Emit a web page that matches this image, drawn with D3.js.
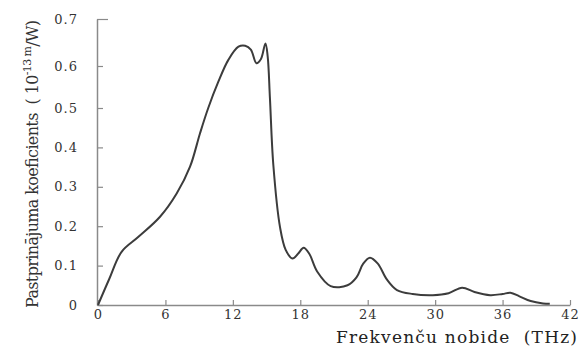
<!DOCTYPE html>
<html>
<head>
<meta charset="utf-8">
<script src="https://cdn.jsdelivr.net/npm/d3@7"></script>
<style>
  body { margin: 0; background: #fff; }
  svg { display: block; }
  .tick text { font-family: "DejaVu Serif", "Liberation Serif", "Times New Roman", serif; font-size: 13px; fill: #333; letter-spacing: 1px; }
</style>
</head>
<body>
<svg id="chart" width="586" height="349"></svg>
<script>
// frequency (THz) and coefficient (1e-13 m/W)
const freq = [0, 1, 2.1, 3.6, 5.52, 7.0, 8.19, 9.08, 9.81, 10.7, 11.6, 12.5, 13.1, 13.6, 14.1, 14.5, 14.9,
  15.1, 15.3, 15.6, 16.2, 16.7, 17.3, 17.8, 18.3, 18.8, 19.5, 20.7, 22.2, 23.0, 23.6, 24.2, 24.9,
  25.7, 26.6, 28, 29.8, 31.2, 32.4, 33.5, 34.9, 36.0, 36.7, 37.5, 38.5, 39.6, 40.2];
const coef = [0, 0.066, 0.135, 0.173, 0.224, 0.283, 0.351, 0.436, 0.5, 0.562, 0.613, 0.641, 0.643, 0.635, 0.606, 0.615, 0.648,
  0.62, 0.523, 0.356, 0.197, 0.14, 0.118, 0.13, 0.145, 0.13, 0.085, 0.048, 0.05, 0.07, 0.105, 0.12, 0.105,
  0.065, 0.038, 0.028, 0.025, 0.03, 0.044, 0.033, 0.025, 0.028, 0.031, 0.022, 0.01, 0.004, 0.003];

const xTicks = [0, 6, 12, 18, 24, 30, 36, 42];
const yTicks = [0, 0.1, 0.2, 0.3, 0.4, 0.5, 0.6, 0.7];

const SERIF = "'DejaVu Serif', 'Liberation Serif', 'Times New Roman', serif";
const svg = d3.select("#chart");

// the printed y axis is slightly stretched at the top
const x = d3.scaleLinear().domain([0, 42]).range([98, 570]);
const y = d3.scaleLinear().domain([0, 0.5, 0.6, 0.7]).range([305, 108, 66, 19]);

const AXIS = "#8a8a8a";

// x axis, ticks pointing up
const gx = svg.append("g")
  .attr("transform", "translate(0,305)")
  .call(d3.axisBottom(x).tickValues(xTicks).tickSizeInner(-5).tickSizeOuter(0).tickPadding(5)
    .tickFormat(d3.format("d")));
gx.attr("font-family", null);
gx.select(".domain").attr("stroke", AXIS).attr("stroke-width", 1.5);
gx.selectAll(".tick line").attr("stroke", AXIS).attr("stroke-width", 1.2);

// y axis, ticks pointing right
const gy = svg.append("g")
  .attr("transform", "translate(97,0)")
  .call(d3.axisLeft(y).tickValues(yTicks).tickSizeInner(-6).tickSizeOuter(0).tickPadding(19)
    .tickFormat(d => d === 0 ? "0" : d3.format(".1f")(d)));
gy.attr("font-family", null);
gy.select(".domain").attr("stroke", AXIS).attr("stroke-width", 1.5);
gy.selectAll(".tick line").attr("stroke", AXIS).attr("stroke-width", 1.2);
gy.selectAll(".tick").filter(d => d === 0.7).select("line").attr("x2", 11);

// curve
const line = d3.line()
  .x((d, i) => x(freq[i]))
  .y(d => y(d))
  .curve(d3.curveCatmullRom.alpha(0.5));

svg.append("path")
  .datum(coef)
  .attr("d", line)
  .attr("fill", "none")
  .attr("stroke", "#3c3c3c")
  .attr("stroke-width", 2)
  .attr("stroke-linejoin", "round");

// axis titles
svg.append("text")
  .attr("x", 336).attr("y", 343)
  .attr("font-family", SERIF)
  .attr("font-size", 17)
  .attr("fill", "#222")
  .attr("textLength", 241)
  .attr("lengthAdjust", "spacing")
  .attr("xml:space", "preserve")
  .text("Frekvenču nobide  (THz)");

const yt = svg.append("text")
  .attr("transform", "translate(38,308) rotate(-90)")
  .attr("font-family", SERIF)
  .attr("font-size", 16)
  .attr("fill", "#333")
  .attr("textLength", 288)
  .attr("lengthAdjust", "spacing")
  .attr("xml:space", "preserve");
yt.append("tspan").text("Pastprinājuma koeficients  ( 10");
yt.append("tspan").attr("font-size", 11).attr("dy", -7).text("-13");
yt.append("tspan").attr("font-size", 11).text(" m");
yt.append("tspan").attr("dy", 7).text("/W)");
</script>
</body>
</html>
